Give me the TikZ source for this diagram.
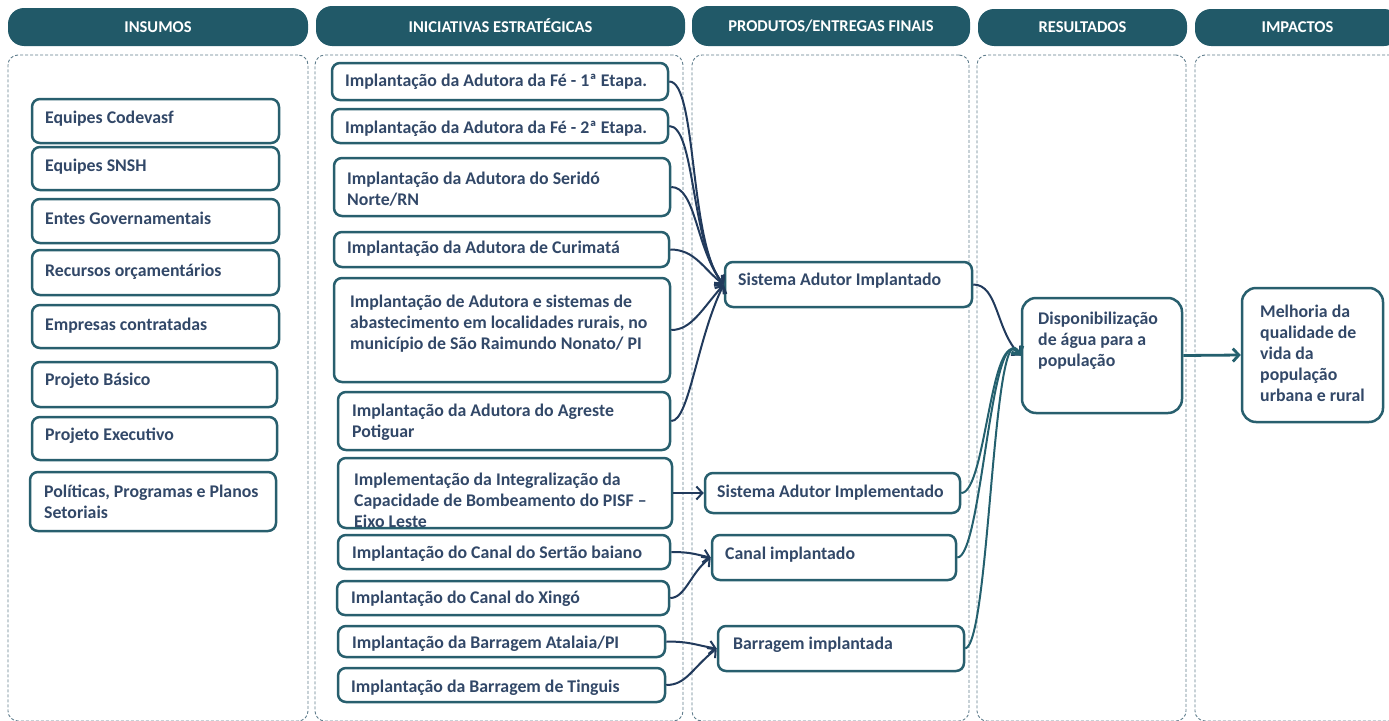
\documentclass[tikz,border=0pt]{standalone}
\usepackage{fontspec}
\setmainfont{Carlito}
\usetikzlibrary{arrows.meta}
\definecolor{hdrc}{RGB}{33,89,104}
\definecolor{boxc}{RGB}{40,95,110}
\definecolor{txtc}{RGB}{50,72,104}
\definecolor{navyc}{RGB}{33,58,92}
\definecolor{tealc}{RGB}{36,96,110}
\definecolor{dashc}{RGB}{95,125,140}
\newcommand\mytxtfont{\fontsize{17.8}{21}\selectfont\bfseries}
\newcommand\myhdrfont{\fontsize{16.5}{18}\selectfont\bfseries}
\tikzset{
  hdr/.style={rectangle, rounded corners=16pt, fill=hdrc, draw=none, text=white, font=\myhdrfont, inner sep=0},
  col/.style={rectangle, draw=dashc, dash pattern=on 3pt off 2pt, line width=0.9pt, rounded corners=10pt, inner sep=0},
  bx/.style={rectangle, draw=boxc, line width=2.5pt, rounded corners=8pt, fill=white, inner sep=0},
  tx/.style={anchor=west, align=left, inner sep=0, text=txtc, font=\mytxtfont, yshift=-1.5pt},
  lk/.style={draw=navyc, line width=2pt, -{Straight Barb[length=6pt,width=13pt]}},
  lt/.style={draw=tealc, line width=2pt, -{Straight Barb[length=6pt,width=13pt]}},
}
\begin{document}
\begin{tikzpicture}[x=1pt,y=-1pt]
\useasboundingbox (0,0) rectangle (1389,720);
% columns
\node[col, minimum width=300, minimum height=666] (c1) at (158,388) {};
\node[col, minimum width=368, minimum height=666] (c2) at (499,388) {};
\node[col, minimum width=277, minimum height=666] (c3) at (830.5,388) {};
\node[col, minimum width=209, minimum height=666] (c4) at (1081.5,388) {};
\node[col, minimum width=205, minimum height=666] (c5) at (1297.5,388) {};
% headers
\node[hdr, minimum width=300, minimum height=38] (h1) at (158,27) {INSUMOS};
\node[hdr, minimum width=369, minimum height=40] (h2) at (500.5,26) {INICIATIVAS ESTRATÉGICAS};
\node[hdr, minimum width=278, minimum height=40] (h3) at (831,26) {PRODUTOS/ENTREGAS FINAIS};
\node[hdr, minimum width=209, minimum height=37] (h4) at (1082.5,27.5) {RESULTADOS};
\node[hdr, minimum width=205, minimum height=37] (h5) at (1297.5,27.5) {IMPACTOS};
% insumos
\node[bx, minimum width=247, minimum height=44] (a1) at (155.5,121) {};
\node[tx] (a1t) at (45,117) {Equipes Codevasf};
\node[bx, minimum width=247, minimum height=43] (a2) at (155.5,168.5) {};
\node[tx] (a2t) at (45,165) {Equipes SNSH};
\node[bx, minimum width=247, minimum height=44] (a3) at (155.5,221) {};
\node[tx] (a3t) at (45,217) {Entes Governamentais};
\node[bx, minimum width=247, minimum height=45] (a4) at (155.5,272.5) {};
\node[tx] (a4t) at (45,270) {Recursos orçamentários};
\node[bx, minimum width=247, minimum height=43] (a5) at (155.5,326.5) {};
\node[tx] (a5t) at (45,324) {Empresas contratadas};
\node[bx, minimum width=245, minimum height=45] (a6) at (154.5,384.5) {};
\node[tx] (a6t) at (45,379) {Projeto Básico};
\node[bx, minimum width=245, minimum height=43] (a7) at (154.5,438.5) {};
\node[tx] (a7t) at (45,434) {Projeto Executivo};
\node[bx, minimum width=246, minimum height=59] (a8) at (153,501.5) {};
\node[tx] (a8t) at (44,500.5) {Políticas, Programas e Planos\\Setoriais};
% iniciativas
\node[bx, minimum width=336, minimum height=37] (i1) at (500,81.5) {};
\node[tx] (i1t) at (345,80) {Implantação da Adutora da Fé - 1ª Etapa.};
\node[bx, minimum width=336, minimum height=34] (i2) at (500,126) {};
\node[tx] (i2t) at (345,127) {Implantação da Adutora da Fé - 2ª Etapa.};
\node[bx, minimum width=336, minimum height=58] (i3) at (502,187) {};
\node[tx] (i3t) at (347,187.5) {Implantação da Adutora do Seridó\\Norte/RN};
\node[bx, minimum width=335, minimum height=35] (i4) at (501.5,249.5) {};
\node[tx] (i4t) at (347,247) {Implantação da Adutora de Curimatá};
\node[bx, minimum width=336, minimum height=104] (i5) at (502,330) {};
\node[tx] (i5t) at (350,322) {Implantação de Adutora e sistemas de\\abastecimento em localidades rurais, no\\município de São Raimundo Nonato/ PI};
\node[bx, minimum width=332, minimum height=58] (i6) at (504,421) {};
\node[tx] (i6t) at (352,420.5) {Implantação da Adutora do Agreste\\Potiguar};
\node[bx, minimum width=334, minimum height=70] (i7) at (505,493) {};
\node[tx] (i7t) at (354,499) {Implementação da Integralização da\\Capacidade de Bombeamento do PISF –\\Eixo Leste};
\node[bx, minimum width=332, minimum height=34] (i8) at (504,552) {};
\node[tx] (i8t) at (352,552) {Implantação do Canal do Sertão baiano};
\node[bx, minimum width=332, minimum height=34] (i9) at (503,598) {};
\node[tx] (i9t) at (351,597) {Implantação do Canal do Xingó};
\node[bx, minimum width=327, minimum height=31] (i10) at (501.5,641.5) {};
\node[tx] (i10t) at (352,642) {Implantação da Barragem Atalaia/PI};
\node[bx, minimum width=327, minimum height=34] (i11) at (501.5,685) {};
\node[tx] (i11t) at (351,686) {Implantação da Barragem de Tinguis};
% produtos
\node[bx, minimum width=247, minimum height=45] (p1) at (848.5,284.5) {};
\node[tx] (p1t) at (738,279) {Sistema Adutor Implantado};
\node[bx, minimum width=255, minimum height=40] (p2) at (832.5,493) {};
\node[tx] (p2t) at (717,491) {Sistema Adutor Implementado};
\node[bx, minimum width=244, minimum height=45] (p3) at (834,557.5) {};
\node[tx] (p3t) at (725,553) {Canal implantado};
\node[bx, minimum width=246, minimum height=45] (p4) at (841,648.5) {};
\node[tx] (p4t) at (733,643) {Barragem implantada};
% resultados / impactos
\node[bx, rounded corners=14pt, minimum width=160, minimum height=115] (r1) at (1102,355.5) {};
\node[tx] (r1t) at (1038,339.5) {Disponibilização\\de água para a\\população};
\node[bx, rounded corners=14pt, minimum width=141, minimum height=134] (m1) at (1312.5,355) {};
\node[tx] (m1t) at (1260,351.5) {Melhoria da\\qualidade de\\vida da\\população\\urbana e rural};
% connectors
\draw[lk] (i1.east) .. controls +(28,0) and +(-35,-40) .. (p1.west);
\draw[lk] (i2.east) .. controls +(26,0) and +(-33,-40) .. (p1.west);
\draw[lk] (i3.east) .. controls +(25,0) and +(-28,-35) .. (p1.west);
\draw[lk] (i4.east) .. controls +(25,0) and +(-20,-15) .. (p1.west);
\draw[lk] (i5.east) .. controls +(20,0) and +(-22,25) .. (p1.west);
\draw[lk] (i6.east) .. controls +(18,0) and +(-27,55) .. (p1.west);
\draw[lk] (i7.east) -- (p2.west);
\draw[lk] (i8.east) .. controls +(20,0) and +(-15,-3) .. (p3.west);
\draw[lk] (i9.east) .. controls +(15,0) and +(-20,15) .. (p3.west);
\draw[lk] (i10.east) .. controls +(25,0) and +(-20,-3) .. (p4.west);
\draw[lk] (i11.east) .. controls +(20,0) and +(-25,20) .. (p4.west);
\draw[lk] (p1.east) .. controls +(25,0) and +(-25,-25) .. (r1.west);
\draw[lt] (p2.east) .. controls +(25,0) and +(-30,-35) .. (r1.west);
\draw[lt] (p3.east) .. controls +(25,0) and +(-30,-45) .. (r1.west);
\draw[lt] (p4.east) .. controls +(25,-5) and +(-28,-55) .. (r1.west);
\draw[lt, line width=2.8pt] (r1.east) -- (m1.west);
\end{tikzpicture}
\end{document}
